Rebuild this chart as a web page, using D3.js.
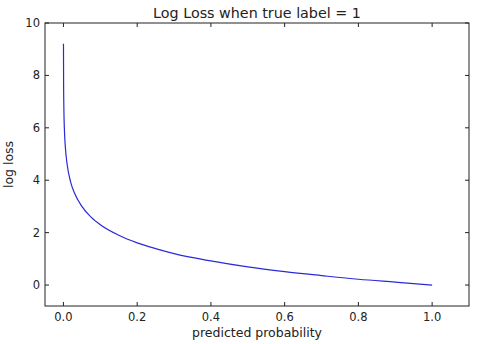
<!DOCTYPE html>
<html>
<head>
<meta charset="utf-8">
<script src="https://cdn.jsdelivr.net/npm/d3@7"></script>
<style>
  body { margin: 0; background: #fff; }
  text { font-family: "DejaVu Sans", sans-serif; fill: #222; }
</style>
</head>
<body>
<div id="chart"></div>
<script>
// values
var probs = [0.0001, 0.0005, 0.001, 0.003, 0.005, 0.01, 0.02, 0.03, 0.05, 0.075, 0.1, 0.15, 0.2, 0.25, 0.3, 0.4, 0.5, 0.6, 0.7, 0.8, 0.9, 1.0];
var losses = [9.21, 7.6, 6.91, 5.81, 5.3, 4.61, 3.91, 3.51, 3.0, 2.59, 2.3, 1.9, 1.61, 1.39, 1.2, 0.92, 0.69, 0.51, 0.36, 0.22, 0.11, 0.0];
var xTicks = [0.0, 0.2, 0.4, 0.6, 0.8, 1.0];
var yTicks = [0, 2, 4, 6, 8, 10];

var width = 480, height = 344;
var margin = {top: 23, right: 11, bottom: 38, left: 45};
var w = width - margin.left - margin.right;
var h = height - margin.top - margin.bottom;

var svg = d3.select("#chart").append("svg")
    .attr("width", width)
    .attr("height", height);

var g = svg.append("g")
    .attr("transform", "translate(" + margin.left + "," + margin.top + ")");

var x = d3.scaleLinear().domain([-0.05, 1.1]).range([0, w]);
var y = d3.scaleLinear().domain([-0.8, 10]).range([h, 0]);

var line = d3.line()
    .x(function (d, i) { return x(probs[i]); })
    .y(function (d) { return y(d); })
    .curve(d3.curveMonotoneX);

g.append("path")
    .datum(losses)
    .attr("d", line)
    .attr("fill", "none")
    .attr("stroke", "#2a2ad8")
    .attr("stroke-width", 1.2);

// inward ticks on all sides
var tl = 4;
g.selectAll(".xtb").data(xTicks).enter().append("line")
    .attr("x1", d => x(d)).attr("x2", d => x(d))
    .attr("y1", h).attr("y2", h - tl)
    .attr("stroke", "#222");
g.selectAll(".xtt").data(xTicks).enter().append("line")
    .attr("x1", d => x(d)).attr("x2", d => x(d))
    .attr("y1", 0).attr("y2", tl)
    .attr("stroke", "#222");
g.selectAll(".ytl").data(yTicks).enter().append("line")
    .attr("y1", d => y(d)).attr("y2", d => y(d))
    .attr("x1", 0).attr("x2", tl)
    .attr("stroke", "#222");
g.selectAll(".ytr").data(yTicks).enter().append("line")
    .attr("y1", d => y(d)).attr("y2", d => y(d))
    .attr("x1", w).attr("x2", w - tl)
    .attr("stroke", "#222");

g.append("rect")
    .attr("width", w).attr("height", h)
    .attr("fill", "none")
    .attr("stroke", "#222")
    .attr("stroke-width", 1);

g.selectAll(".xl").data(xTicks).enter().append("text")
    .attr("x", d => x(d))
    .attr("y", h + 15)
    .attr("text-anchor", "middle")
    .style("font-size", "11.5px")
    .text(d => d.toFixed(1));

g.selectAll(".yl").data(yTicks).enter().append("text")
    .attr("x", -5)
    .attr("y", d => y(d) + 4)
    .attr("text-anchor", "end")
    .style("font-size", "11.5px")
    .text(d => d);

svg.append("text")
    .attr("x", margin.left + w / 2)
    .attr("y", 337)
    .attr("text-anchor", "middle")
    .style("font-size", "12.5px")
    .text("predicted probability");

svg.append("text")
    .attr("transform", "translate(13," + (margin.top + h / 2) + ") rotate(-90)")
    .attr("text-anchor", "middle")
    .style("font-size", "12.5px")
    .text("log loss");

svg.append("text")
    .attr("x", margin.left + w / 2)
    .attr("y", 18)
    .attr("text-anchor", "middle")
    .style("font-size", "14.3px")
    .text("Log Loss when true label = 1");
</script>
</body>
</html>
